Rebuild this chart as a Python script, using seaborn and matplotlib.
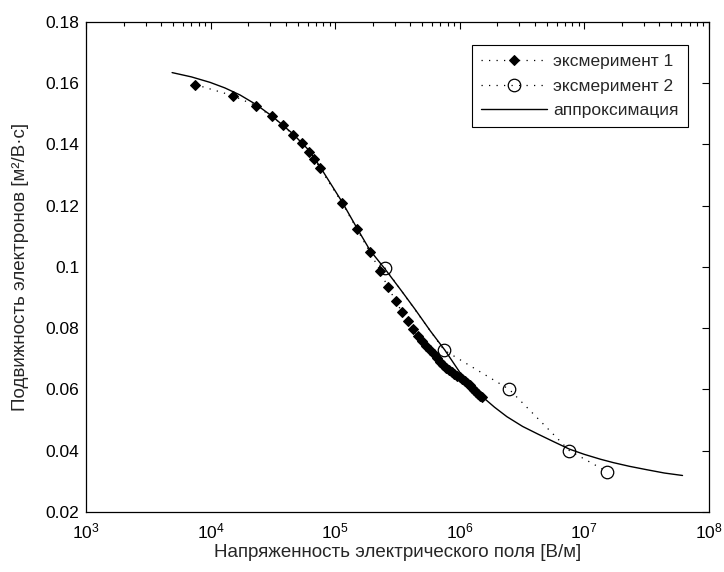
import matplotlib
matplotlib.use('Agg')
import matplotlib.pyplot as plt
import seaborn as sns

# style first, fonts after (set_style resets font.family)
sns.set_style('white')
plt.rcParams['font.family'] = ['Liberation Sans', 'DejaVu Sans']
plt.rcParams['mathtext.fontset'] = 'custom'
plt.rcParams['mathtext.rm'] = 'Liberation Sans'

# experiment 1 (filled diamonds)
e1_field = [7500, 15000, 23100, 30900, 37900, 45600, 53900, 61700, 68000, 75500,
            113500, 150000, 190000, 229000, 264000, 307000, 342000, 384000, 424000,
            460000, 500000, 540000, 580000, 620000, 660000, 700000, 740000, 780000,
            820000, 860000, 900000, 950000, 1.0e6, 1.05e6, 1.1e6, 1.15e6, 1.2e6,
            1.25e6, 1.3e6, 1.35e6, 1.4e6, 1.45e6, 1.5e6]
e1_mob = [0.1595, 0.1559, 0.1526, 0.1491, 0.1463, 0.1431, 0.1405, 0.1376, 0.1353, 0.1322,
          0.1209, 0.1122, 0.1048, 0.0988, 0.0934, 0.0889, 0.0853, 0.0824, 0.0796,
          0.0773, 0.0757, 0.0742, 0.0728, 0.0715, 0.0702, 0.0690, 0.0680, 0.0671,
          0.0663, 0.0656, 0.0650, 0.0644, 0.0639, 0.0633, 0.0627, 0.0620, 0.0613,
          0.0606, 0.0599, 0.0592, 0.0585, 0.0579, 0.0574]

# experiment 2 (open circles)
e2_field = [2.5e5, 7.5e5, 2.5e6, 7.6e6, 1.53e7]
e2_mob = [0.0997, 0.0728, 0.0600, 0.0400, 0.0331]

# approximation curve
fit_field = [4900, 7000, 9900, 13000, 17200, 23100, 31100, 45800, 61700, 75500,
             113500, 149700, 190300, 251000, 340000, 436700, 580000, 760000, 1.0e6,
             1.2e6, 1.5e6, 1.9e6, 2.39e6, 3.2e6, 4.25e6, 5.7e6, 7.6e6, 1.0e7, 1.35e7,
             1.71e7, 2.3e7, 3.16e7, 4.4e7, 6.15e7]
fit_mob = [0.1634, 0.1620, 0.1602, 0.1584, 0.1561, 0.1530, 0.1492, 0.1434, 0.1380, 0.1327,
           0.1212, 0.1126, 0.1054, 0.0993, 0.0922, 0.0862, 0.0791, 0.0728, 0.0656,
           0.0618, 0.0578, 0.0542, 0.0511, 0.0479, 0.0454, 0.0429, 0.0405, 0.0388, 0.0372,
           0.0361, 0.0349, 0.0338, 0.0327, 0.0319]

y_ticks = [0.02, 0.04, 0.06, 0.08, 0.1, 0.12, 0.14, 0.16, 0.18]
y_tick_labels = ['0.02', '0.04', '0.06', '0.08', '0.1', '0.12', '0.14', '0.16', '0.18']

fig = plt.figure(figsize=(7.24, 5.72), dpi=100)
ax = fig.add_axes([0.119, 0.105, 0.860, 0.857])
ax.set_xscale('log')

dotted = (0, (1, 5))
sns.lineplot(x=e1_field, y=e1_mob, ax=ax, color='black', linestyle=dotted, linewidth=0.9,
             marker='D', markersize=5, markerfacecolor='black', markeredgecolor='black',
             label='эксмеримент 1')
sns.lineplot(x=e2_field, y=e2_mob, ax=ax, color='black', linestyle=dotted, linewidth=0.9,
             marker='o', markersize=9, markerfacecolor='none', markeredgecolor='black',
             markeredgewidth=0.9, label='эксмеримент 2')
sns.lineplot(x=fit_field, y=fit_mob, ax=ax, color='black', linewidth=1.0,
             label='аппроксимация')

ax.set_xlim(1e3, 1e8)
ax.set_ylim(0.02, 0.18)
ax.set_yticks(y_ticks)
ax.set_yticklabels(y_tick_labels)

ax.tick_params(which='both', direction='in', top=True, right=True, labelsize=12.5,
               colors='black', width=0.8)
ax.tick_params(which='major', length=5, pad=5)
ax.tick_params(axis='x', which='major', pad=7)
ax.tick_params(which='minor', length=3)
ax.yaxis.set_minor_locator(matplotlib.ticker.NullLocator())

for side in ax.spines.values():
    side.set_color('black')
    side.set_linewidth(0.9)

ax.set_xlabel('Напряженность электрического поля [В/м]', fontsize=13.5, labelpad=2)
ax.set_ylabel('Подвижность электронов [м²/В·с]', fontsize=13.5, labelpad=12)

leg = ax.legend(loc='upper right', bbox_to_anchor=(0.98, 0.97), fontsize=12.5,
                frameon=True, fancybox=False, framealpha=1, edgecolor='black',
                handlelength=3.8, borderpad=0.5, labelspacing=0.55, handletextpad=0.4)
leg.get_frame().set_linewidth(0.8)

fig.savefig('out.png', dpi=100, facecolor='white')
